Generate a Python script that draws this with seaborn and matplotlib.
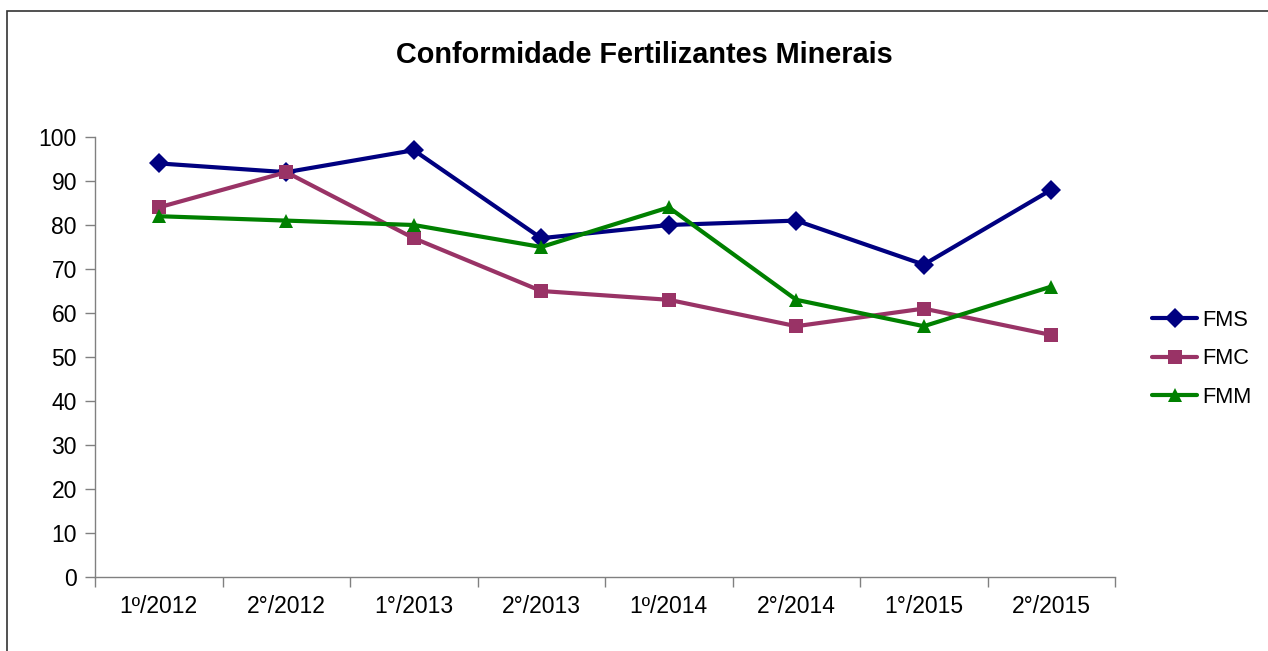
import matplotlib
matplotlib.use("Agg")
import matplotlib.pyplot as plt
import seaborn as sns
import pandas as pd
from matplotlib.patches import Rectangle
from matplotlib.ticker import FixedLocator

# data
periodos = ["1º/2012", "2°/2012", "1°/2013", "2°/2013", "1º/2014", "2°/2014", "1°/2015", "2°/2015"]
fms = [94, 92, 97, 77, 80, 81, 71, 88]
fmc = [84, 92, 77, 65, 63, 57, 61, 55]
fmm = [82, 81, 80, 75, 84, 63, 57, 66]

series = ["FMS", "FMC", "FMM"]
cores = {"FMS": "#000080", "FMC": "#993366", "FMM": "#008000"}
marcadores = {"FMS": "D", "FMC": "s", "FMM": "^"}

df = pd.DataFrame({
    "periodo": periodos * 3,
    "pos": list(range(len(periodos))) * 3,
    "valor": fms + fmc + fmm,
    "serie": ["FMS"] * 8 + ["FMC"] * 8 + ["FMM"] * 8,
})

sns.set_style("white")
plt.rcParams["font.family"] = ["Liberation Sans", "DejaVu Sans"]
plt.rcParams["text.color"] = "black"
plt.rcParams["xtick.color"] = "black"
plt.rcParams["ytick.color"] = "black"

fig = plt.figure(figsize=(12.68, 6.51), dpi=100)
ax = fig.add_axes([95 / 1268, 1 - 577 / 651, (1115 - 95) / 1268, (577 - 137) / 651])

sns.lineplot(data=df, x="pos", y="valor", hue="serie", style="serie",
             hue_order=series, style_order=series, palette=cores,
             markers=marcadores, dashes=False, linewidth=3,
             markersize=10, markeredgewidth=0, ax=ax)

ax.set_xlim(-0.5, 7.5)
ax.set_ylim(0, 100)
ax.set_yticks(range(0, 101, 10))
ax.set_xticks(range(len(periodos)))
ax.set_xticklabels(periodos)
ax.xaxis.set_minor_locator(FixedLocator([i - 0.5 for i in range(len(periodos) + 1)]))
ax.tick_params(axis="x", which="major", length=0, labelsize=16.5, pad=13, labelcolor="black")
ax.tick_params(axis="x", which="minor", length=7, width=1, color="#808080", bottom=True)
ax.tick_params(axis="y", which="major", length=7, width=1, color="#808080",
               labelsize=16.5, pad=6, left=True, labelcolor="black")
ax.set_xlabel("")
ax.set_ylabel("")
for s in ["top", "right"]:
    ax.spines[s].set_visible(False)
for s in ["left", "bottom"]:
    ax.spines[s].set_color("#808080")
    ax.spines[s].set_linewidth(1)

fig.text(644 / 1268, 1 - 55 / 651, "Conformidade Fertilizantes Minerais",
         ha="center", va="center", fontsize=20.8, fontweight="bold", color="black")

leg = ax.legend(loc="center left", bbox_to_anchor=(1132 / 1268, 1 - 359 / 651),
                bbox_transform=fig.transFigure, frameon=False, fontsize=15.7,
                handlelength=2.1, labelspacing=0.8, handletextpad=0.2)
for h in leg.legend_handles:
    h.set_linewidth(3)
for t in leg.get_texts():
    t.set_color("black")

# moldura da figura
fig.patches.append(Rectangle((7 / 1268, -0.1), 1.2, 1.1 - 11 / 651,
                             transform=fig.transFigure, fill=False,
                             edgecolor="#333333", linewidth=1.2))

fig.savefig("out.png", dpi=100)
